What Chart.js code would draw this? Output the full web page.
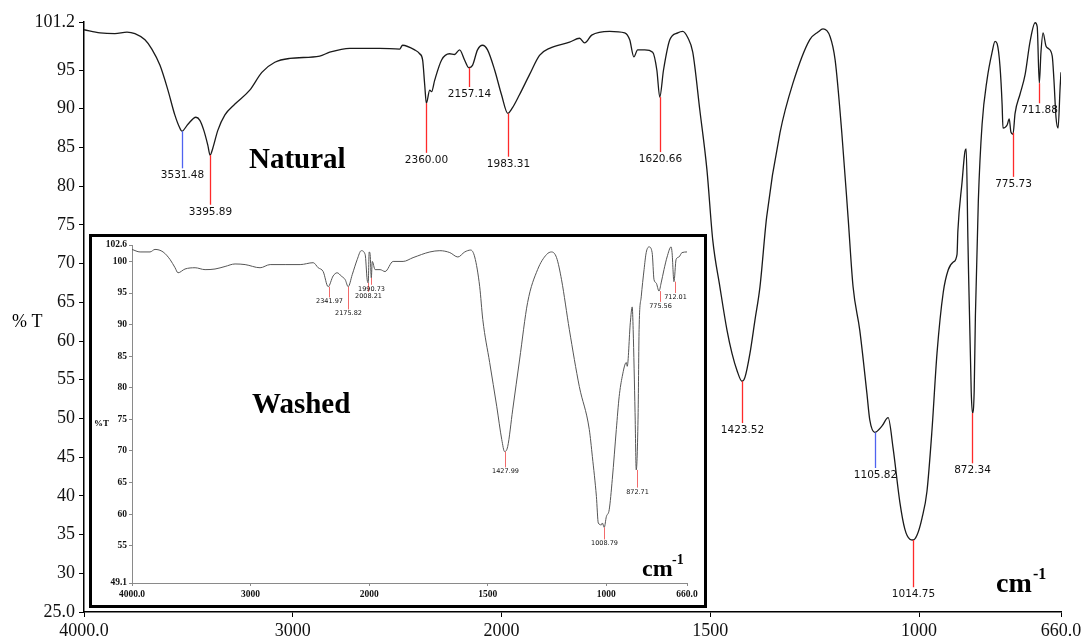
<!DOCTYPE html>
<html>
<head>
<meta charset="utf-8">
<script src="https://cdn.jsdelivr.net/npm/chart.js@4.4.1/dist/chart.umd.min.js"></script>
<style>
  html, body { margin: 0; padding: 0; background: #fff; }
  #wrap { position: relative; width: 1089px; height: 642px; overflow: hidden; }
  #mainChart { position: absolute; left: 0; top: 0; }
  #insetBox {
    position: absolute; left: 89px; top: 234px; width: 618px; height: 374px;
    box-sizing: border-box; border: 3px solid #000; background: #fff;
  }
  #insetChart { position: absolute; left: 0; top: 0; }
</style>
</head>
<body>
<div id="wrap">
  <canvas id="mainChart" width="1089" height="642"></canvas>
  <div id="insetBox"><canvas id="insetChart" width="612" height="368"></canvas></div>
</div>
<script>
// ---- natural sample (main spectrum) ----
const mainWave = [
  4000, 3923, 3852, 3794, 3756, 3708, 3675, 3636, 3598, 3565,
  3541, 3531, 3502, 3464, 3445, 3426, 3407, 3396, 3383, 3359,
  3325, 3277, 3206, 3148, 3086, 3014, 2871, 2823, 2727, 2584,
  2488, 2474, 2416, 2392, 2378, 2368, 2360, 2344, 2335, 2320,
  2287, 2249, 2225, 2201, 2177, 2157, 2139, 2115, 2091, 2067,
  2033, 2000, 1985, 1974, 1957, 1933, 1909, 1885, 1837, 1813,
  1801, 1784, 1741, 1705, 1693, 1683, 1674, 1657, 1638, 1628,
  1621, 1612, 1597, 1578, 1566, 1554, 1542, 1525, 1508, 1494,
  1477, 1460, 1448, 1436, 1424, 1417, 1405, 1393, 1381, 1365,
  1333, 1302, 1262, 1242, 1230, 1213, 1201, 1185, 1170, 1158,
  1142, 1125, 1118, 1106, 1089, 1074, 1062, 1046, 1034, 1022,
  1014, 1005, 993, 981, 969, 957, 942, 930, 918, 909,
  907, 897, 890, 887, 883, 875, 872, 868, 865, 858,
  849, 837, 825, 818, 813, 806, 801, 799, 789, 784,
  780, 775, 770, 758, 746, 734, 722, 717, 712, 708,
  703, 696, 691, 681, 677, 672, 667, 662, 660
];
const mainT = [
  100.2, 99.8, 99.7, 99.9, 99.7, 98.9, 97.7, 95.6, 92.4, 89.2,
  87.5, 87.1, 88.0, 88.9, 88.5, 87.2, 85.3, 84.0, 84.9, 87.2,
  89.2, 90.6, 92.4, 94.7, 96.0, 96.5, 96.8, 97.3, 97.8, 97.8,
  97.7, 98.2, 97.6, 97.1, 96.3, 93.1, 90.7, 92.4, 92.2, 93.7,
  96.3, 97.1, 97.0, 97.6, 96.3, 95.3, 95.6, 97.6, 98.2, 97.6,
  95.0, 91.8, 89.4, 90.1, 91.8, 94.4, 96.9, 97.8, 98.6, 99.1,
  98.5, 99.5, 100.0, 99.8, 98.9, 96.7, 97.6, 97.6, 97.3, 95.0,
  91.5, 95.0, 98.9, 99.8, 100.0, 99.2, 97.3, 89.8, 82.1, 73.0,
  67.0, 61.4, 58.4, 56.2, 54.8, 55.3, 58.4, 62.7, 67.0, 76.0,
  86.9, 93.3, 98.9, 99.9, 100.3, 99.3, 96.3, 86.9, 76.0, 67.0,
  61.4, 53.3, 49.8, 48.2, 49.0, 50.1, 46.1, 39.2, 35.7, 34.4,
  34.3, 34.9, 37.1, 40.6, 48.5, 58.4, 66.3, 69.2, 70.2, 71.2,
  74.2, 80.5, 84.5, 84.8, 73.2, 53.4, 50.7, 53.4, 63.3, 78.1,
  88.0, 93.8, 97.3, 98.7, 98.4, 95.4, 90.5, 87.5, 87.9, 88.7,
  87.0, 86.7, 89.4, 91.9, 94.4, 98.7, 101.1, 100.6, 93.3, 97.3,
  99.8, 98.1, 97.8, 96.8, 93.8, 88.9, 87.5, 92.9, 94.7
];
const mainPeakWave = [3531.48, 3395.89, 2360.00, 2157.14, 1983.31, 1620.66, 1423.52, 1105.82, 1014.75, 872.34, 775.73, 711.88];
const mainPeakTop = [87.1, 84.0, 90.7, 95.3, 89.4, 91.5, 54.8, 48.2, 34.3, 50.7, 86.9, 93.3];
const mainPeakEnd = [82.3, 77.6, 84.3, 92.8, 83.8, 84.4, 49.4, 43.6, 28.2, 44.2, 81.2, 90.7];
const mainBluePeaks = [3531.48, 1105.82];

// ---- washed sample (inset spectrum) ----
const insetWave = [
  4000, 3932, 3848, 3806, 3738, 3679, 3637, 3612, 3553, 3468,
  3384, 3300, 3215, 3131, 3046, 2920, 2835, 2709, 2582, 2472,
  2430, 2388, 2346, 2304, 2270, 2236, 2202, 2177, 2143, 2101,
  2067, 2034, 2017, 2008, 2000, 1996, 1991, 1987, 1975, 1954,
  1933, 1899, 1857, 1815, 1744, 1702, 1660, 1626, 1597, 1572,
  1555, 1534, 1521, 1492, 1462, 1441, 1429, 1416, 1395, 1366,
  1332, 1290, 1252, 1231, 1210, 1189, 1156, 1114, 1072, 1059,
  1042, 1034, 1021, 1017, 1009, 1000, 988, 975, 958, 946,
  933, 916, 912, 899, 891, 887, 879, 874, 866, 862,
  853, 841, 832, 820, 807, 799, 790, 778, 769, 757,
  744, 727, 723, 715, 706, 694, 681, 660
];
const insetT = [
  101.9, 101.5, 101.5, 101.9, 101.5, 100.3, 99.0, 98.2, 98.8, 99.0,
  98.7, 98.8, 99.2, 99.6, 99.5, 99.0, 99.5, 99.5, 99.5, 99.8,
  99.0, 98.4, 96.0, 97.7, 98.2, 97.7, 97.1, 96.0, 97.9, 100.3,
  101.7, 101.1, 97.1, 96.6, 101.5, 101.1, 97.4, 100.0, 98.7, 98.7,
  98.4, 100.0, 100.0, 100.6, 101.5, 101.7, 101.4, 100.7, 101.5, 101.8,
  100.7, 96.0, 90.8, 84.0, 77.0, 71.8, 69.9, 70.7, 76.5, 84.4,
  93.5, 98.7, 101.1, 101.5, 100.6, 97.1, 89.2, 80.2, 73.4, 69.1,
  62.8, 58.6, 58.3, 58.6, 57.9, 59.6, 60.7, 65.5, 73.4, 78.6,
  81.8, 84.0, 83.4, 90.3, 92.8, 89.2, 76.1, 67.0, 76.1, 89.2,
  94.4, 98.7, 101.4, 102.3, 101.4, 97.1, 96.6, 95.3, 96.6, 98.7,
  100.7, 102.3, 101.4, 96.8, 100.3, 100.7, 101.4, 101.5
];
const insetPeakWave = [2341.97, 2175.82, 2008.21, 1990.73, 1427.99, 1008.79, 872.71, 775.56, 712.01];
const insetPeakTop = [96.0, 96.0, 96.6, 97.4, 69.9, 57.9, 67.0, 95.3, 96.8];
const insetPeakEnd = [94.3, 92.4, 95.2, 96.3, 67.4, 56.0, 64.2, 93.6, 95.0];

// ---- axes ----
const xTickWave = [4000, 3000, 2000, 1500, 1000, 660];
const xTickLabels = ['4000.0', '3000', '2000', '1500', '1000', '660.0'];
const mainYTicks = [25, 30, 35, 40, 45, 50, 55, 60, 65, 70, 75, 80, 85, 90, 95, 101.2];
const mainYLabels = ['25.0', '30', '35', '40', '45', '50', '55', '60', '65', '70', '75', '80', '85', '90', '95', '101.2'];
const insetYTicks = [49.1, 55, 60, 65, 70, 75, 80, 85, 90, 95, 100, 102.6];
const insetYLabels = ['49.1', '55', '60', '65', '70', '75', '80', '85', '90', '95', '100', '102.6'];

// the instrument doubles the scale below 2000 cm-1
const pos = (w) => (w >= 2000 ? (4000 - w) / 2 : 1000 + (2000 - w));

const toPoints = (waves, values) => waves.map((w, i) => ({ x: pos(w), y: values[i] }));

// =====================================
// PLUGINS
// =====================================

const peakPlugin = {
  id: 'peaks',
  afterDatasetsDraw(chart, args, o) {
    const { ctx } = chart;
    const xs = chart.scales.x;
    const ys = chart.scales.y;
    ctx.save();
    o.waves.forEach((w, i) => {
      const x = Math.round(xs.getPixelForValue(pos(w))) + 0.5;
      const y1 = ys.getPixelForValue(o.tops[i]);
      const y2 = ys.getPixelForValue(o.ends[i]);
      ctx.beginPath();
      ctx.strokeStyle = (o.blue || []).includes(w) ? o.blueColor : o.redColor;
      ctx.lineWidth = o.lineWidth;
      ctx.moveTo(x, y1);
      ctx.lineTo(x, y2);
      ctx.stroke();
      ctx.fillStyle = '#111';
      ctx.font = o.font;
      ctx.textAlign = 'center';
      ctx.textBaseline = 'top';
      ctx.fillText(w.toFixed(2), x, y2 + o.gap);
    });
    ctx.restore();
  },
};

const notesPlugin = {
  id: 'notes',
  afterDraw(chart, args, o) {
    const { ctx } = chart;
    ctx.save();
    ctx.fillStyle = '#000';
    ctx.textBaseline = 'alphabetic';
    o.items.forEach((n) => {
      ctx.font = n.font;
      ctx.textAlign = n.align || 'left';
      ctx.fillText(n.text, n.x, n.y);
    });
    ctx.restore();
  },
};

function spectrumConfig(s) {
  return {
    type: 'line',
    data: {
      datasets: [{
        data: s.points,
        borderColor: s.lineColor,
        borderWidth: s.lineWidth,
        pointRadius: 0,
        cubicInterpolationMode: 'monotone',
        fill: false,
      }],
    },
    options: {
      responsive: false,
      animation: false,
      events: [],
      layout: { autoPadding: false, padding: s.padding },
      plugins: {
        legend: { display: false },
        tooltip: { enabled: false },
        peaks: s.peaks,
        notes: { items: s.notes },
      },
      scales: {
        x: {
          type: 'linear',
          min: 0,
          max: pos(660),
          afterFit: (sc) => { sc.height = s.xHeight; },
          afterBuildTicks: (sc) => { sc.ticks = xTickWave.map((w) => ({ value: pos(w) })); },
          border: { display: true, color: s.axisColor, width: s.axisWidth },
          grid: { display: true, drawOnChartArea: false, drawTicks: true, tickLength: s.tickLength, color: s.axisColor },
          ticks: {
            autoSkip: false, maxRotation: 0, padding: s.xPad,
            color: '#111', font: s.tickFont,
            callback: (v, i) => xTickLabels[i],
          },
        },
        y: {
          type: 'linear',
          min: s.yTicks[0],
          max: s.yTicks[s.yTicks.length - 1],
          afterFit: (sc) => { sc.width = s.yWidth; },
          afterBuildTicks: (sc) => { sc.ticks = s.yTicks.map((v) => ({ value: v })); },
          border: { display: true, color: s.axisColor, width: s.axisWidth },
          grid: { display: true, drawOnChartArea: false, drawTicks: true, tickLength: s.tickLength, color: s.axisColor },
          ticks: {
            autoSkip: false, padding: s.yPad,
            color: '#111', font: s.tickFont,
            callback: (v, i) => s.yLabels[i],
          },
        },
      },
    },
    plugins: [peakPlugin, notesPlugin],
  };
}

// =====================================
// MAIN (NATURAL)
// =====================================

new Chart(document.getElementById('mainChart'), spectrumConfig({
  points: toPoints(mainWave, mainT),
  lineColor: '#1a1a1a',
  lineWidth: 1.3,
  padding: { top: 22, right: 28, left: 0, bottom: 0 },
  xHeight: 30,
  yWidth: 84,
  axisColor: '#000',
  axisWidth: 1.5,
  tickLength: 5,
  xPad: 3,
  yPad: 4,
  tickFont: { family: 'Liberation Serif', size: 18 },
  yTicks: mainYTicks,
  yLabels: mainYLabels,
  peaks: {
    waves: mainPeakWave, tops: mainPeakTop, ends: mainPeakEnd, blue: mainBluePeaks,
    redColor: '#ff2a2a', blueColor: '#4f63f0', lineWidth: 1.3,
    font: '10.5px "DejaVu Sans"', gap: 2,
  },
  notes: [
    { text: 'Natural', x: 249, y: 168, font: 'bold 29px "Liberation Serif"' },
    { text: '% T', x: 12, y: 327, font: '18px "Liberation Serif"' },
    { text: 'cm', x: 996, y: 592, font: 'bold 28px "Liberation Serif"' },
    { text: '-1', x: 1033, y: 579, font: 'bold 16px "Liberation Serif"' },
  ],
}));

// =====================================
// INSET (WASHED)
// =====================================

new Chart(document.getElementById('insetChart'), spectrumConfig({
  points: toPoints(insetWave, insetT),
  lineColor: '#555',
  lineWidth: 1,
  padding: { top: 8, right: 17, left: 0, bottom: 0 },
  xHeight: 22,
  yWidth: 40,
  axisColor: '#8a8a8a',
  axisWidth: 1,
  tickLength: 3,
  xPad: 3,
  yPad: 2,
  tickFont: { family: 'Liberation Serif', size: 9.5, weight: 'bold' },
  yTicks: insetYTicks,
  yLabels: insetYLabels,
  peaks: {
    waves: insetPeakWave, tops: insetPeakTop, ends: insetPeakEnd, blue: [],
    redColor: '#f26b6b', blueColor: '#4f63f0', lineWidth: 1,
    font: '6.5px "DejaVu Sans"', gap: 1,
  },
  notes: [
    { text: 'Washed', x: 160, y: 176, font: 'bold 29px "Liberation Serif"' },
    { text: '%T', x: 2, y: 189, font: 'bold 9px "Liberation Serif"' },
    { text: 'cm', x: 550, y: 339, font: 'bold 24px "Liberation Serif"' },
    { text: '-1', x: 580, y: 327, font: 'bold 14px "Liberation Serif"' },
  ],
}));
</script>
</body>
</html>
